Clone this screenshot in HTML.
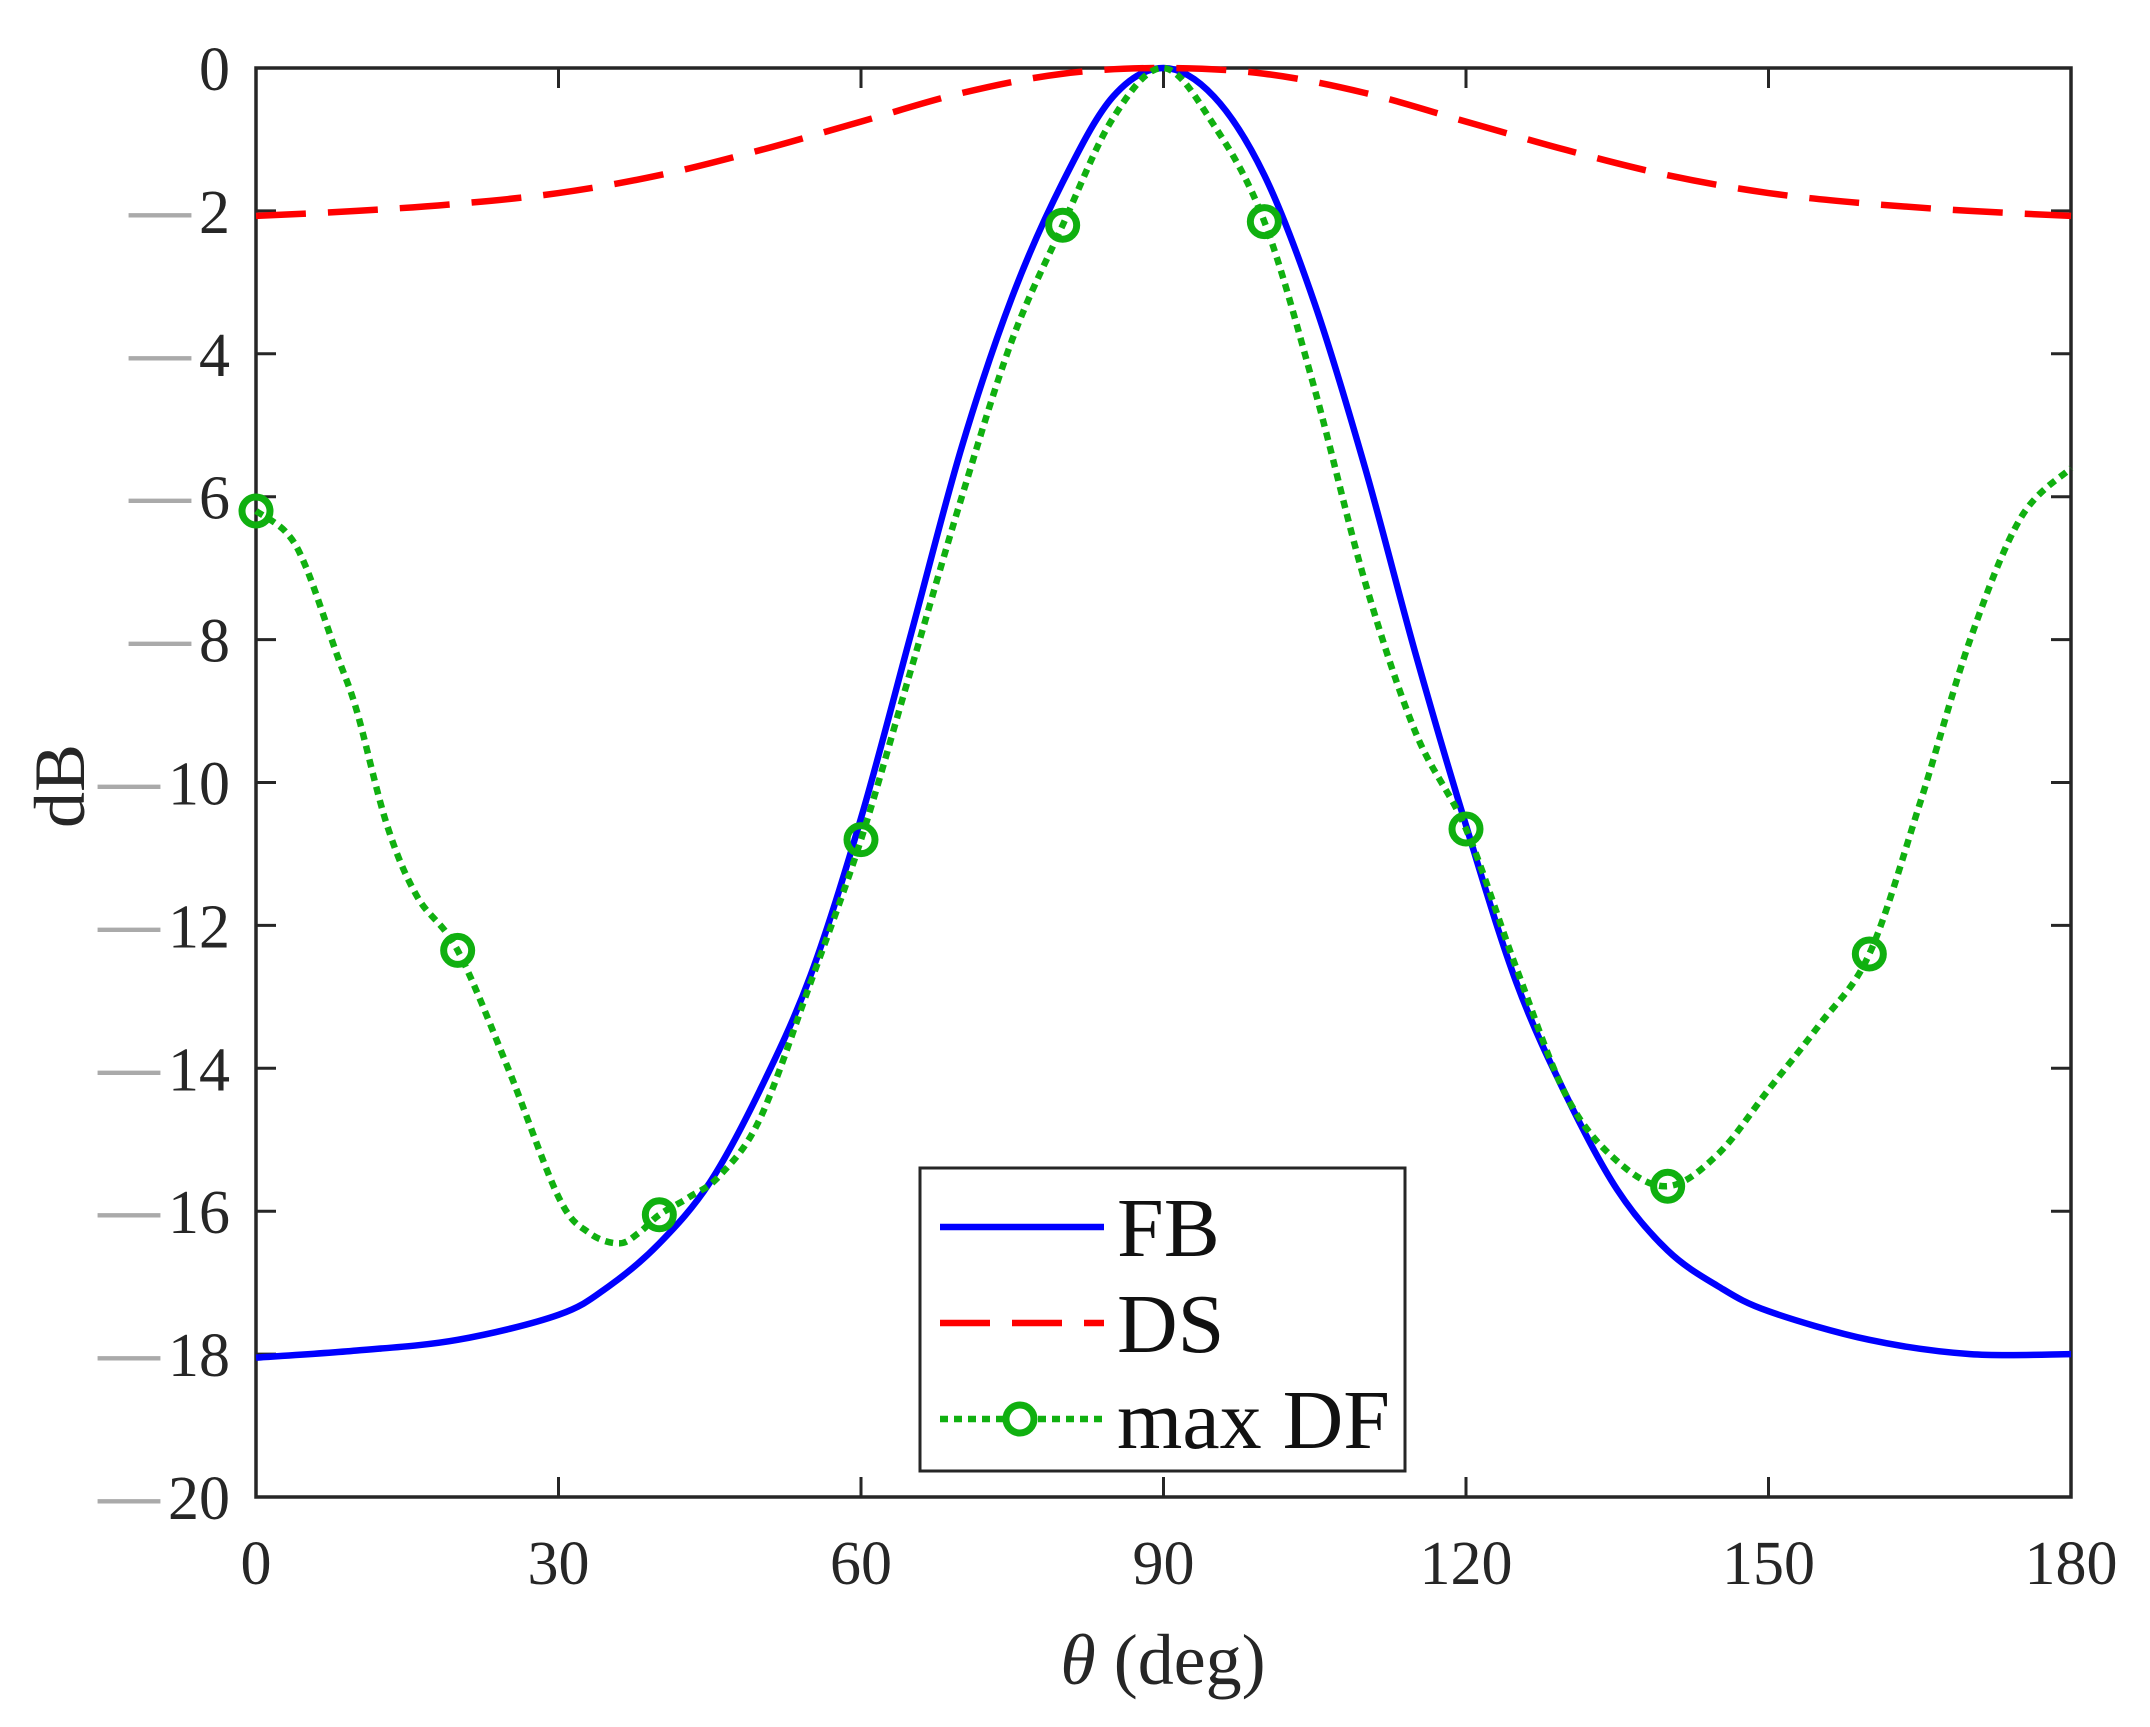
<!DOCTYPE html>
<html><head><meta charset="utf-8"><style>
html,body{margin:0;padding:0;background:#fff;}
svg{display:block;font-family:"Liberation Serif",serif;}
</style></head><body>
<svg id="chart" width="2150" height="1727" viewBox="0 0 2150 1727">
<rect x="0" y="0" width="2150" height="1727" fill="#fff"/>
<g id="axes"></g>
<g id="series"></g>
<g id="legend"></g>
</svg>
<script>
const xTicks=[0,30,60,90,120,150,180];
const yTicks=[0,-2,-4,-6,-8,-10,-12,-14,-16,-18,-20];
const fbTheta=[0,10,20,30,35,40,45,50,55,60,65,70,75,80,85,90,95,100,105,110,115,120,125,130,135,140,145,150,160,170,180];
const fbValues=[-18.05,-17.95,-17.8,-17.45,-17.05,-16.45,-15.6,-14.3,-12.7,-10.5,-7.9,-5.3,-3.2,-1.6,-0.4,0,-0.4,-1.5,-3.3,-5.6,-8.2,-10.6,-12.8,-14.4,-15.7,-16.55,-17.05,-17.4,-17.8,-18.0,-18.0];
const dsTheta=[0,10,20,30,40,50,60,70,80,90,100,110,120,130,140,150,160,170,180];
const dsValues=[-2.07,-2.0,-1.9,-1.75,-1.5,-1.15,-0.75,-0.35,-0.08,0,-0.08,-0.35,-0.75,-1.15,-1.5,-1.75,-1.9,-2.0,-2.07];
const dfTheta=[0,3,5,8,10,13,16,20,25,30,33,36,38,40,43,46,50,55,60,65,70,75,80,85,90,95,100,105,110,115,120,125,130,135,140,145,150,155,160,165,170,175,180];
const dfValues=[-6.2,-6.5,-7,-8.2,-9,-10.6,-11.6,-12.35,-14,-15.8,-16.3,-16.45,-16.3,-16.05,-15.8,-15.5,-14.7,-12.8,-10.8,-8.4,-6,-3.8,-2.2,-0.7,0,-0.8,-2.15,-4.5,-7.2,-9.3,-10.65,-12.6,-14.4,-15.3,-15.65,-15.2,-14.3,-13.4,-12.4,-10.3,-8,-6.3,-5.6];
const dfMarkerTheta=[0,20,40,60,80,100,120,140,160];
const dfMarkerValues=[-6.2,-12.35,-16.05,-10.8,-2.2,-2.15,-10.65,-15.65,-12.4];

const X0=256,X1=2071,Y0=68,Y1=1497;
const sx=v=>X0+(v-0)/(180-0)*(X1-X0);
const sy=v=>Y0+(0-v)/(0-(-20))*(Y1-Y0);
const NS="http://www.w3.org/2000/svg";
function mk(tag,attrs,parent){const e=document.createElementNS(NS,tag);for(const k in attrs)e.setAttribute(k,attrs[k]);parent.appendChild(e);return e;}
const axes=document.getElementById('axes'),series=document.getElementById('series'),legend=document.getElementById('legend');

xTicks.forEach(t=>{
  const x=sx(t);
  const tk=mk('path',{d:`M${x},${Y1}V${Y1-20}M${x},${Y0}V${Y0+20}`,stroke:'#262626','stroke-width':3},axes);
  
  
  const lb=mk('text',{x:x,y:1584,'text-anchor':'middle','font-size':62,fill:'#262626'},axes);
  lb.textContent=String(t);
  
  
});
yTicks.forEach(t=>{
  const y=sy(t);
  const tk=mk('path',{d:`M${X0},${y}H${X0+20}M${X1},${y}H${X1-20}`,stroke:'#262626','stroke-width':3},axes);
  
  
  const lb=mk('text',{x:230,y:y+22,'text-anchor':'end','font-size':62,fill:'#262626'},axes);
  
  
  if(t<0){
    const m=mk('tspan',{fill:'#aaa',dy:-3,'font-weight':'bold'},lb);m.textContent='\u2014';
    const d=mk('tspan',{dx:8,dy:3},lb);d.textContent=String(-t);
  } else lb.textContent=String(t);
});
const frame=mk('rect',{x:X0,y:Y0,width:X1-X0,height:Y1-Y0,fill:'none',stroke:'#262626','stroke-width':3.5},axes);


const yl=mk('text',{x:0,y:0,transform:'translate(84,786) rotate(-90)','text-anchor':'middle','font-size':72,fill:'#262626'},axes);
yl.textContent='dB';


const xl=mk('text',{x:1163,y:1684,'text-anchor':'middle','font-size':72,fill:'#262626'},axes);
xl.innerHTML='<tspan font-style="italic">θ</tspan> (deg)';



function smooth(xs,ys){
  const p=xs.map((x,i)=>[sx(x),sy(ys[i])]);
  let d=`M${p[0][0]},${p[0][1]}`;
  for(let i=0;i<p.length-1;i++){
    const a=p[Math.max(0,i-1)],b=p[i],c=p[i+1],e=p[Math.min(p.length-1,i+2)];
    const c1=[b[0]+(c[0]-a[0])/6,b[1]+(c[1]-a[1])/6],c2=[c[0]-(e[0]-b[0])/6,c[1]-(e[1]-b[1])/6];
    d+=`C${c1[0]},${c1[1]} ${c2[0]},${c2[1]} ${c[0]},${c[1]}`;
  }
  return d;
}
const fb=mk('path',{d:smooth(fbTheta,fbValues),fill:'none',stroke:'#0000ff','stroke-width':6.5},series);


const ds=mk('path',{d:smooth(dsTheta,dsValues),fill:'none',stroke:'#ff0000','stroke-width':6.5,'stroke-dasharray':'50 22'},series);


const df=mk('path',{d:smooth(dfTheta,dfValues),fill:'none',stroke:'#10b010','stroke-width':6.5,'stroke-dasharray':'8 6'},series);


dfMarkerTheta.forEach((t,i)=>{
  const c=mk('circle',{cx:sx(t),cy:sy(dfMarkerValues[i]),r:14,fill:'none',stroke:'#10b010','stroke-width':7},series);
  
  
});

const lbox=mk('rect',{x:920,y:1168,width:485,height:303,fill:'#fff',stroke:'#262626','stroke-width':3},legend);


const entries=[['FB','#0000ff','none',false],['DS','#ff0000','50 22',false],['max DF','#10b010','8 6',true]];
entries.forEach((en,i)=>{
  const y=1227+i*96;
  const g=mk('g',{},legend);
  
  
  mk('path',{d:`M940,${y}H1104`,stroke:en[1],'stroke-width':6.5,'stroke-dasharray':en[2],fill:'none'},g);
  if(en[3])mk('circle',{cx:1020,cy:y,r:14,fill:'#fff',stroke:en[1],'stroke-width':7},g);
  const t=mk('text',{x:1117,y:y+29,'font-size':84,fill:'#111'},g);
  t.textContent=en[0];
});
</script>
</body></html>
